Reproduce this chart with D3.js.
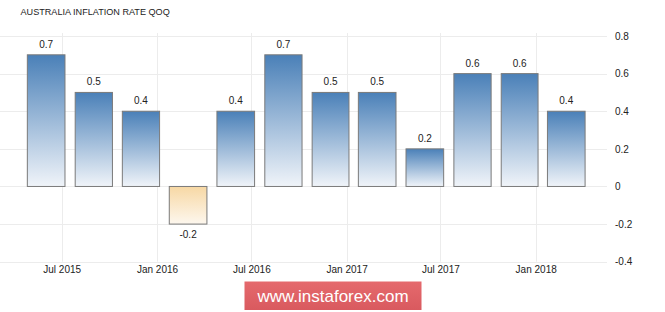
<!DOCTYPE html>
<html>
<head>
<meta charset="utf-8">
<script src="https://cdn.jsdelivr.net/npm/d3@7"></script>
<style>
  html, body { margin: 0; padding: 0; background: #fff; }
  svg { display: block; font-family: "Liberation Sans", Arial, sans-serif; }
</style>
</head>
<body>
<svg id="chart" width="665" height="312"></svg>
<script>
// données du graphique
const quarters = ["2015-06-01", "2015-09-01", "2015-12-01", "2016-03-01", "2016-06-01", "2016-09-01",
                  "2016-12-01", "2017-03-01", "2017-06-01", "2017-09-01", "2017-12-01", "2018-03-01"];
const values = [0.7, 0.5, 0.4, -0.2, 0.4, 0.7, 0.5, 0.5, 0.2, 0.6, 0.6, 0.4];
const xTicks = ["2015-07-01", "2016-01-01", "2016-07-01", "2017-01-01", "2017-07-01", "2018-01-01"];
const yTicks = [-0.4, -0.2, 0, 0.2, 0.4, 0.6, 0.8];

const parse = d3.timeParse("%Y-%m-%d");
const svg = d3.select("#chart");
// format avec un tiret simple, comme l'original
const fmt = d => d === 0 ? "0" : d.toFixed(1);

// échelles
const x = d3.scaleTime()
    .domain([parse("2015-07-01"), parse("2018-01-01")])
    .range([61.7, 535.7]);
const y = d3.scaleLinear()
    .domain([-0.4, 0.8])
    .range([261.7, 36]);

const plotRight = 607;

// dégradés
const defs = svg.append("defs");
function gradient(id, top, bottom) {
    const g = defs.append("linearGradient").attr("id", id)
        .attr("x1", 0).attr("y1", 0).attr("x2", 0).attr("y2", 1);
    g.append("stop").attr("offset", "0%").attr("stop-color", top);
    g.append("stop").attr("offset", "100%").attr("stop-color", bottom);
}
gradient("pos", "#4a80b8", "#f0f4f9");
gradient("neg", "#f7d8a4", "#fdf7ee");
gradient("wm", "#e5696d", "#d95a5f");

// titre
svg.append("text")
    .attr("x", 20.5).attr("y", 15)
    .attr("font-size", 9.1)
    .attr("fill", "#222")
    .text("AUSTRALIA INFLATION RATE QOQ");

// grille horizontale + axe Y à droite
const yAxis = d3.axisRight(y)
    .tickValues(yTicks)
    .tickSize(0)
    .tickPadding(8)
    .tickFormat(fmt);
svg.append("g")
    .attr("transform", `translate(${plotRight},0)`)
    .call(yAxis)
    .call(g => g.select(".domain").remove())
    .call(g => g.selectAll("text").attr("font-size", 10).attr("fill", "#222").attr("font-family", null));

svg.append("g").selectAll("line")
    .data(yTicks).enter().append("line")
    .attr("x1", 0).attr("x2", plotRight)
    .attr("y1", d => Math.round(y(d)) + 0.5).attr("y2", d => Math.round(y(d)) + 0.5)
    .attr("stroke", "#ececec");

// grille verticale + axe X
const xDates = xTicks.map(parse);
svg.append("g").selectAll("line")
    .data(xDates).enter().append("line")
    .attr("x1", d => Math.round(x(d)) + 0.5).attr("x2", d => Math.round(x(d)) + 0.5)
    .attr("y1", 33).attr("y2", y(-0.4))
    .attr("stroke", "#ececec");

const xAxis = d3.axisBottom(x)
    .tickValues(xDates)
    .tickSize(0)
    .tickPadding(0)
    .tickFormat(d3.timeFormat("%b %Y"));
svg.append("g")
    .attr("transform", "translate(0,266)")
    .call(xAxis)
    .call(g => g.select(".domain").remove())
    .call(g => g.selectAll("text").attr("font-size", 10).attr("fill", "#222").attr("font-family", null));

// barres
const data = quarters.map((q, i) => ({ date: parse(q), value: values[i] }));
const bw = d => (x(d3.timeMonth.offset(d.date, 3)) - x(d.date)) * 0.79;

svg.append("g").selectAll("rect")
    .data(data).enter().append("rect")
    .attr("x", d => x(d.date) - bw(d) / 2)
    .attr("width", bw)
    .attr("y", d => y(Math.max(0, d.value)))
    .attr("height", d => Math.abs(y(d.value) - y(0)))
    .attr("fill", d => d.value < 0 ? "url(#neg)" : "url(#pos)")
    .attr("stroke", "#7a7a7a")
    .attr("stroke-width", 1);

// étiquettes des valeurs
svg.append("g").selectAll("text")
    .data(data).enter().append("text")
    .attr("x", d => x(d.date))
    .attr("y", d => d.value < 0 ? y(d.value) + 14 : y(d.value) - 7)
    .attr("text-anchor", "middle")
    .attr("font-size", 10)
    .attr("fill", "#222")
    .text(d => fmt(d.value));

// filigrane
svg.append("rect")
    .attr("x", 244.5).attr("y", 281.5)
    .attr("width", 177).attr("height", 28.5)
    .attr("fill", "url(#wm)");
svg.append("text")
    .attr("x", 333).attr("y", 302)
    .attr("text-anchor", "middle")
    .attr("font-size", 17)
    .attr("fill", "#fff")
    .text("www.instaforex.com");
</script>
</body>
</html>
